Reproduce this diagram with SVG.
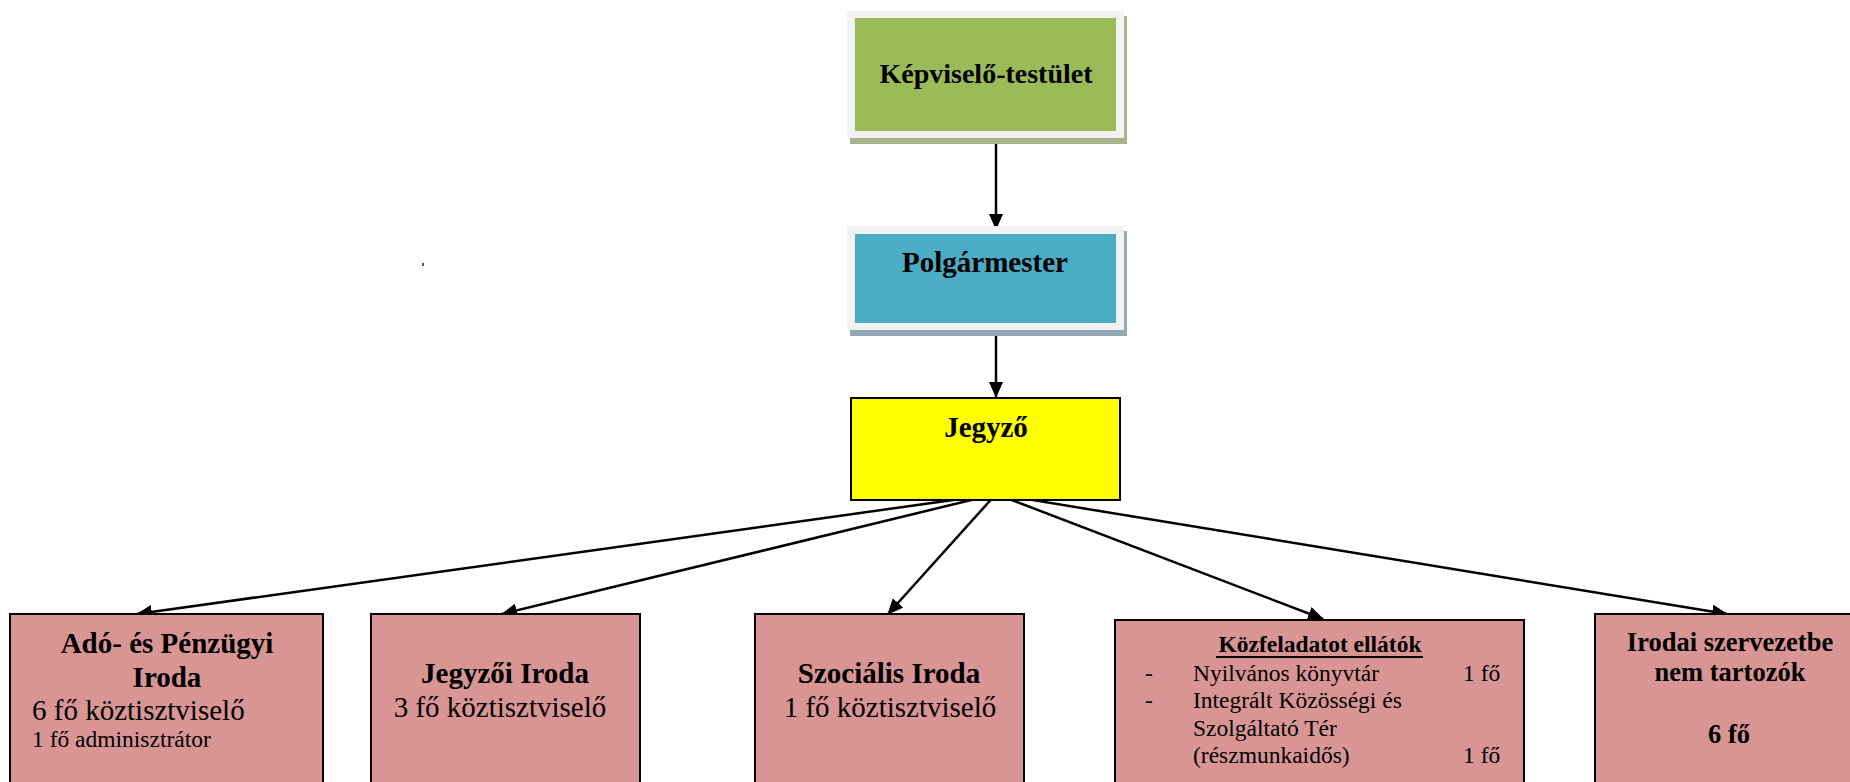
<svg xmlns="http://www.w3.org/2000/svg" width="1850" height="782" viewBox="0 0 1850 782">
<style>
.t{font-family:"Liberation Serif","Times New Roman",serif;fill:#000}
.b{font-weight:bold}
.c{text-anchor:middle}
.box{fill:#D99594;stroke:#000;stroke-width:2}
.frame{fill:#F2F2F2}
.ln{stroke:#000;stroke-width:2.5;fill:none;marker-end:url(#ah)}
</style>
<defs>
<marker id="ah" markerUnits="userSpaceOnUse" markerWidth="16" markerHeight="14" refX="15" refY="7" orient="auto">
<path d="M0,0 L16,7 L0,14 Z" fill="#000"/>
</marker>
</defs>
<rect x="0" y="0" width="1850" height="782" fill="#fff"/>
<rect x="422" y="263" width="2" height="3" fill="#555"/>
<g id="connectors">
<line class="ln" x1="996" y1="134" x2="996" y2="229"/>
<line class="ln" x1="996" y1="327" x2="996" y2="397"/>
<line class="ln" x1="996" y1="494" x2="137" y2="614"/>
<line class="ln" x1="996" y1="494" x2="502" y2="614"/>
<line class="ln" x1="996" y1="494" x2="888" y2="614"/>
<line class="ln" x1="996" y1="494" x2="1323" y2="619"/>
<line class="ln" x1="996" y1="494" x2="1727" y2="614"/>
</g>
<g id="kepviselo">
<rect x="850" y="16" width="277" height="128" fill="#A7B38E"/>
<rect class="frame" x="847" y="11" width="277" height="127"/>
<rect x="855" y="18" width="261" height="113" fill="#9BBB59"/>
<text class="t b c" x="986" y="83" font-size="28">Képviselő-testület</text>
</g>
<g id="polgarmester">
<rect x="850" y="231" width="277" height="105" fill="#93A9B3"/>
<rect class="frame" x="847" y="226" width="277" height="104"/>
<rect x="855" y="234" width="261" height="89" fill="#4BACC6"/>
<text class="t b c" x="985" y="272" font-size="29">Polgármester</text>
</g>
<g id="jegyzo">
<rect x="851" y="398" width="269" height="102" fill="#FFFF00" stroke="#000" stroke-width="2"/>
<text class="t b c" x="986" y="437" font-size="29">Jegyző</text>
</g>
<g id="ado">
<rect class="box" x="10" y="614" width="313" height="190"/>
<text class="t b c" x="167" y="653" font-size="29">Adó- és Pénzügyi</text>
<text class="t b c" x="167" y="687" font-size="29">Iroda</text>
<text class="t" x="32" y="720" font-size="29">6 fő köztisztviselő</text>
<text class="t" x="32" y="747" font-size="23.5">1 fő adminisztrátor</text>
</g>
<g id="jegyzoi">
<rect class="box" x="371" y="614" width="269" height="190"/>
<text class="t b c" x="505" y="683" font-size="29">Jegyzői Iroda</text>
<text class="t c" x="500" y="717" font-size="29">3 fő köztisztviselő</text>
</g>
<g id="szocialis">
<rect class="box" x="755" y="614" width="269" height="190"/>
<text class="t b c" x="889" y="683" font-size="29">Szociális Iroda</text>
<text class="t c" x="890" y="717" font-size="29">1 fő köztisztviselő</text>
</g>
<g id="kozfeladat">
<rect class="box" x="1115" y="620" width="409" height="190"/>
<text class="t b c" x="1320" y="652" font-size="23.5">Közfeladatot ellátók</text>
<rect x="1216" y="656" width="207" height="2" fill="#000"/>
<text class="t" x="1145" y="681" font-size="23.5">-</text>
<text class="t" x="1193" y="681" font-size="23.5">Nyilvános könyvtár</text>
<text class="t" x="1463" y="681" font-size="23.5">1 fő</text>
<text class="t" x="1145" y="708" font-size="23.5">-</text>
<text class="t" x="1193" y="708" font-size="23.5">Integrált Közösségi és</text>
<text class="t" x="1193" y="736" font-size="23.5">Szolgáltató Tér</text>
<text class="t" x="1193" y="763" font-size="23.5">(részmunkaidős)</text>
<text class="t" x="1463" y="763" font-size="23.5">1 fő</text>
</g>
<g id="irodai">
<rect class="box" x="1595" y="614" width="270" height="190"/>
<text class="t b c" x="1730" y="651" font-size="26.5">Irodai szervezetbe</text>
<text class="t b c" x="1730" y="681" font-size="26.5">nem tartozók</text>
<text class="t b c" x="1729" y="743" font-size="26.5">6 fő</text>
</g>
</svg>
